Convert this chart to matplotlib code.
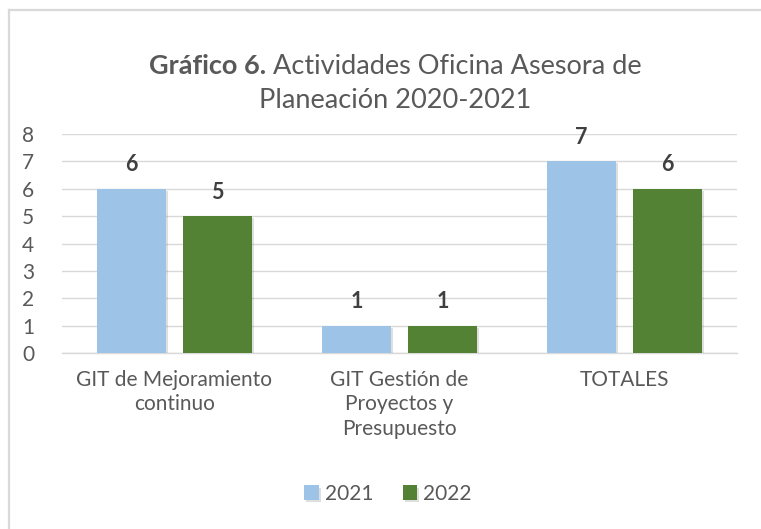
import matplotlib
matplotlib.use('Agg')
import matplotlib.pyplot as plt
import matplotlib.patheffects as pe
from matplotlib.lines import Line2D
import numpy as np

# Chart data
categories = ['GIT de Mejoramiento\ncontinuo', 'GIT Gestión de\nProyectos y\nPresupuesto', 'TOTALES']
series_names = ['2021', '2022']
values_2021 = [6, 1, 7]
values_2022 = [5, 1, 6]
y_ticks = [0, 1, 2, 3, 4, 5, 6, 7, 8]

blue = '#9DC3E6'
green = '#548235'
text_grey = '#595959'
label_grey = '#404040'
grid_grey = '#D9D9D9'

plt.rcParams['font.family'] = ['Lato', 'DejaVu Sans']

W, H = 761, 529
fig = plt.figure(figsize=(W / 100, H / 100), dpi=100)

# Chart border (only top and left edges are visible in the crop)
fig.lines.append(Line2D([9 / W, 9 / W], [0, 1 - 10 / H], transform=fig.transFigure, color=grid_grey, linewidth=1.6))
fig.lines.append(Line2D([9 / W, 1], [1 - 10 / H, 1 - 10 / H], transform=fig.transFigure, color=grid_grey, linewidth=1.6))

ax = fig.add_axes([62 / W, 1 - 353 / H, 675 / W, 219 / H])

x = np.arange(len(categories))
width = 0.307
offset = 0.191

shadow = [pe.SimplePatchShadow(offset=(1.5, -1.5), alpha=0.25, shadow_rgbFace='#808080'), pe.Normal()]
bars1 = ax.bar(x - offset, values_2021, width, color=blue, label=series_names[0], zorder=3, path_effects=shadow)
bars2 = ax.bar(x + offset, values_2022, width, color=green, label=series_names[1], zorder=3, path_effects=shadow)

for bars in (bars1, bars2):
    for b in bars:
        ax.annotate(str(int(b.get_height())), (b.get_x() + b.get_width() / 2, b.get_height()),
                    xytext=(0, 24), textcoords='offset pixels', ha='center', va='center',
                    fontsize=15.5, fontweight='bold', color=label_grey)

ax.set_xlim(-0.5, 2.5)
ax.set_ylim(0, 8)
ax.set_yticks(y_ticks)
ax.set_yticklabels([str(t) for t in y_ticks], fontsize=15, color=text_grey)
ax.set_xticks(x)
ax.set_xticklabels(categories, fontsize=15, color=text_grey, linespacing=1.3)
ax.tick_params(axis='y', length=0, pad=20)
ax.tick_params(axis='x', length=0, pad=12)
ax.grid(axis='y', color=grid_grey, linewidth=1.0, zorder=0)
for s in ['top', 'right', 'left']:
    ax.spines[s].set_visible(False)
ax.spines['bottom'].set_color(grid_grey)
ax.spines['bottom'].set_linewidth(1.0)

# Title with bold prefix, centred as a whole
fig.canvas.draw()
renderer = fig.canvas.get_renderer()
cx = 395 / W
y1 = 1 - 66 / H
t_bold = fig.text(0, y1, 'Gráfico 6.', fontsize=19.5, fontweight='bold', color=text_grey, va='center')
t_rest = fig.text(0, y1, ' Actividades Oficina Asesora de', fontsize=19.5, color=text_grey, va='center')
wb = t_bold.get_window_extent(renderer).width / W
wr = t_rest.get_window_extent(renderer).width / W
left = cx - (wb + wr) / 2
t_bold.set_x(left)
t_rest.set_x(left + wb)
fig.text(cx, 1 - 100 / H, 'Planeación 2020-2021', fontsize=19.5, color=text_grey, ha='center', va='center')

fig.legend(handles=[bars1, bars2], labels=series_names, loc='center', bbox_to_anchor=(388 / W, 1 - 494 / H),
           ncol=2, frameon=False, fontsize=15, handlelength=0.7, handleheight=0.7, handletextpad=0.3,
           columnspacing=1.4, labelcolor=text_grey)

fig.savefig('out.png', dpi=100)
